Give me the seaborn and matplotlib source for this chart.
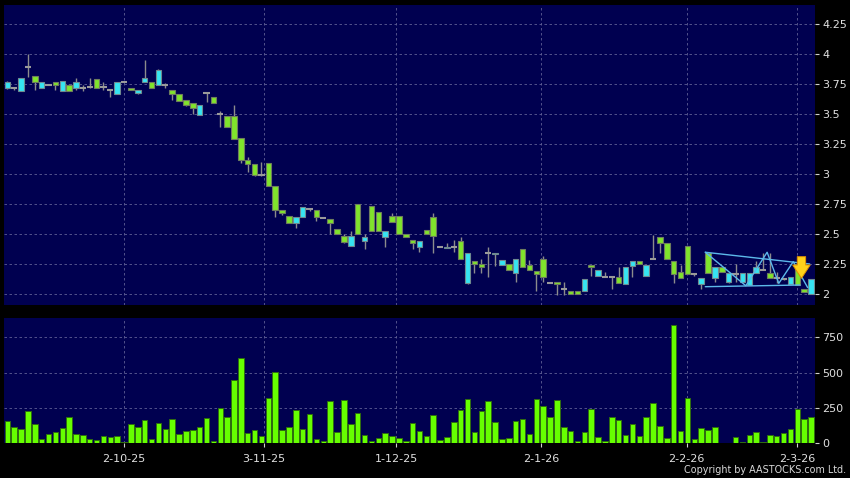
import numpy as np
import matplotlib
matplotlib.use("Agg")
import matplotlib.pyplot as plt
import matplotlib.ticker as ticker
import seaborn as sns

# daily OHLC (green = down day, cyan = up day, grey = unchanged)
opens = [3.72, 3.72, 3.69, 3.89, 3.82, 3.72, 3.74, 3.77, 3.69, 3.74,
         3.72, 3.72, 3.73, 3.79, 3.73, 3.70, 3.67, 3.77, 3.72, 3.68,
         3.77, 3.77, 3.74, 3.74, 3.70, 3.67, 3.62, 3.59, 3.49, 3.68,
         3.64, 3.50, 3.48, 3.48, 3.30, 3.12, 3.08, 2.99, 3.09, 2.90,
         2.70, 2.65, 2.59, 2.64, 2.71, 2.70, 2.63, 2.62, 2.54, 2.48,
         2.40, 2.75, 2.44, 2.73, 2.68, 2.47, 2.65, 2.65, 2.50, 2.45,
         2.39, 2.53, 2.64, 2.39, 2.38, 2.39, 2.44, 2.09, 2.27, 2.25,
         2.34, 2.33, 2.24, 2.25, 2.17, 2.37, 2.24, 2.19, 2.29, 2.09,
         2.10, 2.04, 2.02, 2.02, 2.02, 2.24, 2.15, 2.14, 2.14, 2.14,
         2.08, 2.23, 2.27, 2.15, 2.29, 2.47, 2.42, 2.27, 2.18, 2.40,
         2.16, 2.08, 2.34, 2.13, 2.22, 2.10, 2.16, 2.10, 2.07, 2.17,
         2.20, 2.17, 2.13, 2.12, 2.08, 2.25, 2.04, 2.00]
highs = [3.78, 3.73, 3.80, 4.00, 3.82, 3.77, 3.75, 3.77, 3.78, 3.75,
         3.80, 3.74, 3.80, 3.79, 3.77, 3.70, 3.77, 3.77, 3.72, 3.70,
         3.95, 3.77, 3.88, 3.76, 3.70, 3.67, 3.62, 3.59, 3.58, 3.68,
         3.64, 3.53, 3.48, 3.58, 3.30, 3.14, 3.08, 3.10, 3.09, 2.90,
         2.70, 2.65, 2.64, 2.72, 2.71, 2.70, 2.63, 2.62, 2.54, 2.50,
         2.52, 2.75, 2.50, 2.73, 2.68, 2.52, 2.67, 2.65, 2.50, 2.45,
         2.44, 2.53, 2.67, 2.39, 2.42, 2.45, 2.47, 2.34, 2.27, 2.29,
         2.39, 2.34, 2.28, 2.25, 2.29, 2.37, 2.28, 2.19, 2.31, 2.09,
         2.10, 2.10, 2.02, 2.02, 2.12, 2.24, 2.20, 2.18, 2.14, 2.22,
         2.22, 2.27, 2.27, 2.24, 2.49, 2.47, 2.42, 2.27, 2.24, 2.40,
         2.17, 2.13, 2.34, 2.22, 2.22, 2.17, 2.25, 2.17, 2.17, 2.27,
         2.34, 2.34, 2.18, 2.13, 2.14, 2.25, 2.04, 2.12]
lows = [3.71, 3.70, 3.69, 3.81, 3.70, 3.72, 3.74, 3.70, 3.69, 3.69,
        3.70, 3.69, 3.72, 3.72, 3.70, 3.64, 3.67, 3.77, 3.70, 3.67,
        3.77, 3.72, 3.74, 3.72, 3.62, 3.61, 3.57, 3.50, 3.49, 3.60,
        3.59, 3.39, 3.39, 3.29, 3.09, 3.02, 2.98, 2.98, 2.90, 2.64,
        2.66, 2.59, 2.55, 2.64, 2.69, 2.61, 2.63, 2.50, 2.50, 2.42,
        2.40, 2.50, 2.37, 2.52, 2.52, 2.39, 2.60, 2.50, 2.47, 2.37,
        2.35, 2.50, 2.34, 2.39, 2.38, 2.35, 2.29, 2.08, 2.17, 2.17,
        2.14, 2.23, 2.24, 2.20, 2.10, 2.22, 2.20, 2.02, 2.10, 2.09,
        1.99, 1.99, 2.00, 2.00, 2.02, 2.15, 2.15, 2.14, 2.04, 2.09,
        2.08, 2.14, 2.25, 2.15, 2.29, 2.34, 2.29, 2.09, 2.13, 2.16,
        2.15, 2.04, 2.17, 2.10, 2.18, 2.09, 2.10, 2.10, 2.07, 2.17,
        2.20, 2.13, 2.09, 2.11, 2.08, 2.07, 2.01, 2.00]
closes = [3.77, 3.72, 3.80, 3.89, 3.77, 3.77, 3.74, 3.74, 3.78, 3.69,
          3.77, 3.72, 3.73, 3.72, 3.73, 3.70, 3.77, 3.77, 3.70, 3.70,
          3.80, 3.72, 3.87, 3.74, 3.67, 3.61, 3.58, 3.55, 3.58, 3.68,
          3.59, 3.50, 3.39, 3.29, 3.12, 3.08, 2.99, 2.99, 2.90, 2.70,
          2.67, 2.59, 2.64, 2.72, 2.71, 2.64, 2.63, 2.59, 2.50, 2.43,
          2.48, 2.50, 2.47, 2.52, 2.52, 2.52, 2.60, 2.50, 2.47, 2.42,
          2.44, 2.50, 2.48, 2.39, 2.39, 2.39, 2.29, 2.34, 2.25, 2.22,
          2.34, 2.34, 2.28, 2.20, 2.29, 2.22, 2.20, 2.16, 2.14, 2.09,
          2.08, 2.04, 2.00, 2.00, 2.12, 2.22, 2.20, 2.14, 2.14, 2.09,
          2.22, 2.27, 2.25, 2.24, 2.29, 2.42, 2.29, 2.16, 2.13, 2.16,
          2.16, 2.13, 2.17, 2.22, 2.18, 2.17, 2.16, 2.17, 2.17, 2.22,
          2.20, 2.13, 2.13, 2.12, 2.14, 2.07, 2.01, 2.12]
# volume (thousand shares)
volumes = [158, 113, 99, 226, 137, 28, 64, 78, 106, 186,
           64, 57, 30, 23, 50, 45, 50, 7, 134, 115,
           167, 33, 144, 101, 172, 64, 87, 92, 118, 179,
           14, 248, 188, 448, 604, 73, 92, 54, 323, 505,
           94, 118, 236, 101, 205, 33, 16, 297, 80, 307,
           134, 212, 57, 18, 40, 71, 52, 35, 14, 142,
           89, 50, 198, 23, 42, 151, 234, 316, 80, 226,
           302, 149, 30, 38, 160, 170, 66, 314, 264, 186,
           307, 118, 85, 14, 80, 241, 42, 18, 188, 165,
           57, 134, 50, 184, 283, 122, 40, 835, 87, 319,
           28, 108, 96, 113, 5, 5, 47, 9, 61, 82,
           7, 59, 50, 73, 101, 243, 172, 184]

date_labels = ['2-10-25', '3-11-25', '1-12-25', '2-1-26', '2-2-26', '2-3-26']
date_pos = [17, 37.3, 56.6, 77.7, 98.9, 115]
price_ticks = [2, 2.25, 2.5, 2.75, 3, 3.25, 3.5, 3.75, 4, 4.25]
vol_ticks = [0, 250, 500, 750]

# triangle pattern drawn over the last weeks
tri_upper_x = [101.6, 116.8]
tri_upper_y = [2.345, 2.247]
tri_lower_x = [101.6, 115.4]
tri_lower_y = [2.057, 2.071]
zig_x = [101.6, 107.5, 110.6, 112.3, 114.4, 116.5]
zig_y = [2.345, 2.065, 2.345, 2.085, 2.266, 2.050]
arrow_x = 115.6
arrow_from = 2.308
arrow_to = 2.127

navy = '#000050'
grid_c = '#5f5f95'
green = '#80e42c'
cyan = '#36e4f2'
grey = '#9a9a9a'
vol_green = '#66ff00'

sns.set_theme(style='dark', rc={'axes.facecolor': navy, 'figure.facecolor': 'black'})
plt.rcParams['font.family'] = ['DejaVu Sans']

fig = plt.figure(figsize=(8.5, 4.78), dpi=100)
ax1 = fig.add_axes([4 / 850, 1 - 305 / 478, 811 / 850, 300 / 478])
ax2 = fig.add_axes([4 / 850, 1 - 443.3 / 478, 811 / 850, 125.3 / 478])

o = np.array(opens)
h = np.array(highs)
l = np.array(lows)
c = np.array(closes)
idx = np.arange(len(o))

# wicks first, bodies on top
ax1.vlines(idx, l, h, color='#8c8c8c', linewidth=1, zorder=2)
up = c > o
down = c < o
flat = c == o
ax1.bar(idx[down], (o - c)[down], bottom=c[down], width=0.8, color=green,
        edgecolor='#6e7d5e', linewidth=0.8, zorder=3)
ax1.bar(idx[up], (c - o)[up], bottom=o[up], width=0.8, color=cyan,
        edgecolor='#6f8a90', linewidth=0.8, zorder=3)
ax1.hlines(o[flat], idx[flat] - 0.45, idx[flat] + 0.45, color=grey,
           linewidth=1.5, zorder=3)

ax1.plot(tri_upper_x, tri_upper_y, color='#5cb8ea', linewidth=1, zorder=4)
ax1.plot(tri_lower_x, tri_lower_y, color='#5cb8ea', linewidth=1, zorder=4)
ax1.plot(zig_x, zig_y, color='#5cb8ea', linewidth=1, zorder=4)
ax1.annotate('', xy=(arrow_x, arrow_to), xytext=(arrow_x, arrow_from),
             arrowprops=dict(arrowstyle='simple,head_width=1.05,head_length=0.8,tail_width=0.5',
                             fc='#ffd21a', ec='#e09000', lw=0.7,
                             shrinkA=0, shrinkB=0), zorder=5)

sns.barplot(x=idx, y=volumes, native_scale=True, color=vol_green, saturation=1,
            width=0.8, edgecolor='#2f6d10', linewidth=0.7, errorbar=None, ax=ax2, zorder=3)

for ax in (ax1, ax2):
    ax.set_xlim(-0.48, 117.57)
    ax.set_facecolor(navy)
    ax.set_xticks(date_pos)
    ax.yaxis.tick_right()
    ax.grid(True, color=grid_c, linestyle=(0, (3, 3)), linewidth=0.6, zorder=0)
    ax.set_axisbelow(True)
    for s in ax.spines.values():
        s.set_visible(False)
    ax.tick_params(axis='y', which='both', right=True, length=3, width=0.8,
                   color='#d0d0d0', labelcolor='#e0e0e0', labelsize=8, pad=2)
    ax.set_xlabel('')
    ax.set_ylabel('')

ax1.set_ylim(1.904, 4.412)
ax1.set_yticks(price_ticks)
ax1.yaxis.set_major_formatter(ticker.FuncFormatter(lambda v, p: '{:g}'.format(v)))
ax1.tick_params(axis='x', bottom=False, labelbottom=False)

ax2.set_ylim(0, 887)
ax2.set_yticks(vol_ticks)
ax2.set_xticklabels(date_labels)
ax2.tick_params(axis='x', bottom=True, length=3, width=0.8, color='#d0d0d0',
                labelcolor='#e0e0e0', labelsize=8, pad=5)

fig.text(0.996, 0.006, 'Copyright by AASTOCKS.com Ltd.', ha='right', va='bottom',
         fontsize=6.9, color='#d8d8d8')

fig.savefig('out.png', dpi=100, facecolor='black')
